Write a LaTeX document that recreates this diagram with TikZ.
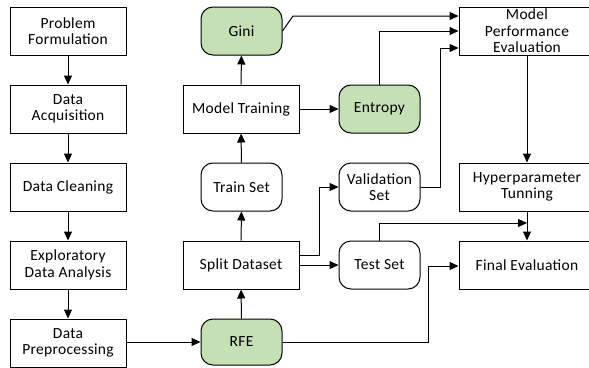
\documentclass[tikz,border=0pt]{standalone}
\usepackage{fontspec}
\setmainfont{Carlito}[LetterSpace=2]
\usetikzlibrary{arrows.meta,calc}
\definecolor{boxgreen}{HTML}{C5E0B4}
\begin{document}
\begin{tikzpicture}[x=1pt,y=-1pt,
  font=\fontsize{15.5}{16.5}\selectfont,
  base/.style={draw=black,line width=1pt,align=center,inner sep=1pt},
  sqbox/.style={base,minimum width=116pt,minimum height=48pt},
  wbox/.style={base,minimum width=136pt,minimum height=48pt},
  rbox/.style={base,rounded corners=12pt,minimum width=81pt,minimum height=48pt},
  gbox/.style={rbox,fill=boxgreen},
  conn/.style={line width=1pt,-{Triangle[length=9pt,width=8pt]}},
  plain/.style={line width=1pt}]
\useasboundingbox (0,0) rectangle (589,367);
% left column
\node[sqbox] (pf) at (68,31) {Problem\\Formulation};
\node[sqbox] (da) at (68,109) {Data\\Acquisition};
\node[sqbox] (dc) at (68,187) {Data Cleaning};
\node[sqbox] (eda) at (68,265) {Exploratory\\Data Analysis};
\node[sqbox] (dp) at (68,343) {Data\\Preprocessing};
% middle column
\node[gbox] (gini) at (241.5,31) {Gini};
\node[sqbox] (mt) at (241,109) {Model Training};
\node[gbox] (ent) at (379.5,109) {Entropy};
\node[rbox] (train) at (241.5,187) {Train Set};
\node[rbox] (val) at (379.5,187) {Validation\\Set};
\node[sqbox] (split) at (241,265) {Split Dataset};
\node[rbox] (test) at (379.5,265) {Test Set};
\node[gbox,minimum height=46pt] (rfe) at (241.5,342) {RFE};
% right column
\node[wbox] (mpe) at (527,31) {Model\\Performance\\Evaluation};
\node[wbox] (hyp) at (527,187) {Hyperparameter\\Tunning};
\node[wbox] (fe) at (527,265) {Final Evaluation};
% coordinates
\coordinate (g1) at (293,16);
\coordinate (v1) at (440,48);
\coordinate (t1) at (527,223);
\coordinate (r1) at (428,266);
\coordinate (s1) at (319,255);
% left chain
\draw[conn] (pf) -- (da);
\draw[conn] (da) -- (dc);
\draw[conn] (dc) -- (eda);
\draw[conn] (eda) -- (dp);
\draw[conn] (dp.east |- rfe.west) -- (rfe.west);
% middle
\draw[conn] (rfe) -- (split);
\draw[conn] (split) -- (train);
\draw[conn] (train) -- (mt);
\draw[conn] (mt) -- (gini);
\draw[conn] (mt) -- (ent);
\draw[conn] (split.east |- s1) -- (s1) |- (val.west);
\draw[conn] (split) -- (test);
% to model performance evaluation
\draw[conn] (gini.east) -- (g1) -- (g1 -| mpe.west);
\draw[conn] (ent.north) |- (mpe.west);
\draw[conn] (val.east) -| (v1) -- (v1 -| mpe.west);
% right column
\draw[conn] (mpe) -- (hyp);
\draw[conn] (hyp) -- (fe);
\draw[conn] (test.north) |- (t1);
\draw[conn] (rfe.east) -| (r1) -- (r1 -| fe.west);
\end{tikzpicture}
\end{document}
